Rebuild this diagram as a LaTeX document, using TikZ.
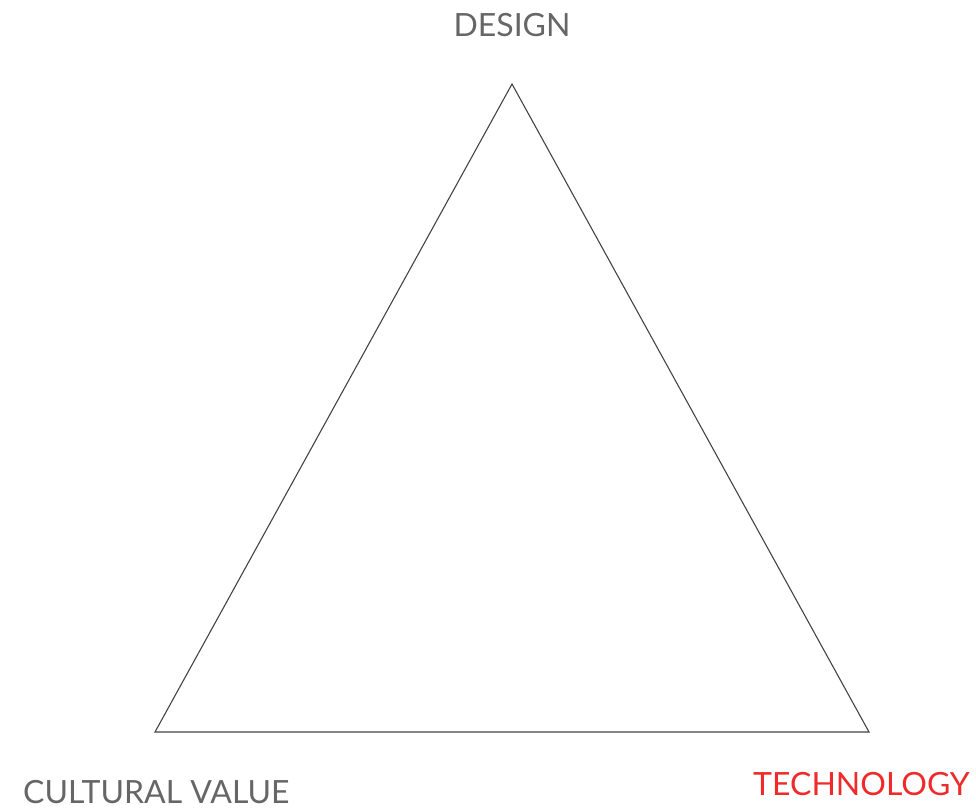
\documentclass[tikz,border=0pt]{standalone}
\usepackage{fontspec}
\setmainfont{Lato}
\definecolor{labelgrey}{HTML}{666666}
\definecolor{edgegrey}{HTML}{444444}
\definecolor{techred}{HTML}{EE2A2A}
\begin{document}
\begin{tikzpicture}[x=1pt,y=-1pt,
  lbl/.style={font=\fontsize{32}{38}\selectfont, inner sep=0pt, text=labelgrey},
  edge/.style={draw=edgegrey, line width=1.1pt, line join=miter}]
\useasboundingbox (0,0) rectangle (976,810);
\coordinate (top) at (512,84);
\coordinate (bl) at (155,732);
\coordinate (br) at (869,732);
\draw[edge] (top) -- (bl) -- (br) -- cycle;
\node[lbl, anchor=base] (design) at (512,37) {DESIGN};
\node[lbl, anchor=base west] (culture) at (23,803) {CULTURAL VALUE};
\node[lbl, anchor=base west, text=techred] (tech) at (753,795) {TECHNOLOGY};
\end{tikzpicture}
\end{document}
